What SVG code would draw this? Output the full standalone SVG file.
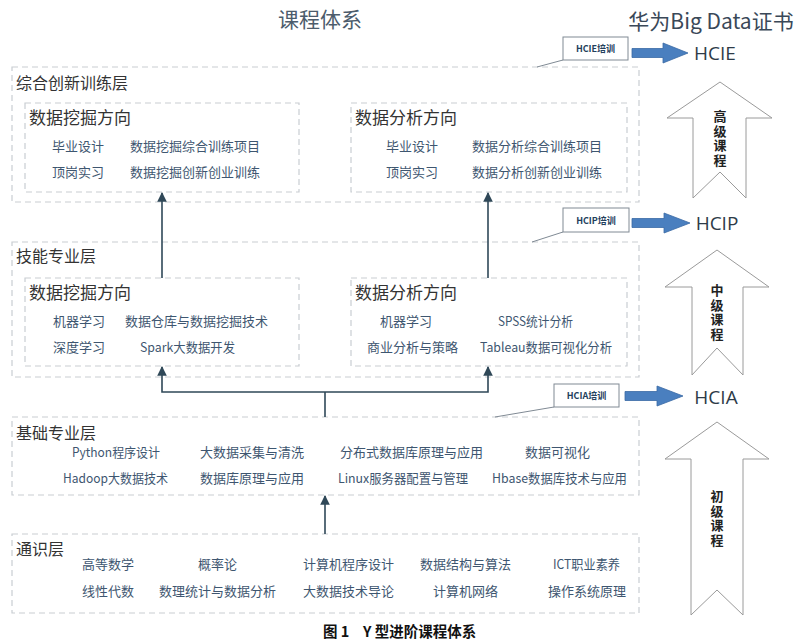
<svg xmlns="http://www.w3.org/2000/svg" width="800" height="643" viewBox="0 0 800 643">
<style>
text{font-family:"Noto Sans CJK SC","Liberation Sans",sans-serif}
.layer{fill:#fff;stroke:#c9cdd2;stroke-width:1.2;stroke-dasharray:6 4}
.lbl{font-size:16px;fill:#333}
.ttl{font-size:17px;fill:#333}
.it{font-size:13px;fill:#3e5670}
.conn{stroke:#2f4858;stroke-width:1.6;fill:none}
.callout{fill:#fff;stroke:#808a94;stroke-width:1}
.ctext{font-size:9px;font-weight:bold;fill:#23405c;text-anchor:middle}
.lead{stroke:#808a94;stroke-width:1;fill:none}
.blue{fill:#4a7fbf;stroke:#3a6aa5;stroke-width:0.8}
.cert{font-family:"Open Sans","Liberation Sans",sans-serif;font-size:19px;fill:#2e3b48}
.big{fill:#fff;stroke:#9a9a9a;stroke-width:1}
.vt{font-size:13px;font-weight:bold;fill:#222;writing-mode:vertical-rl;text-anchor:middle;letter-spacing:1.5px}
.cap{font-size:14.5px;font-weight:bold;fill:#111}
</style>
<defs>
<marker id="ah" viewBox="0 0 10 10" refX="9" refY="5" markerWidth="6" markerHeight="6" orient="auto">
<path d="M0,0 L10,5 L0,10 z" fill="#2f4858"/>
</marker>
</defs>
<rect width="800" height="643" fill="#fff"/>

<text x="320" y="27" font-size="21" fill="#4c5c6c" text-anchor="middle">课程体系</text>
<text x="711" y="29" font-size="21" fill="#3a4858" text-anchor="middle">华为Big Data证书</text>

<g id="layer-innovation">
<rect class="layer" x="12" y="67" width="627" height="135"/>
<text class="lbl" x="16" y="89">综合创新训练层</text>
<g id="innov-mining">
<rect class="layer" x="25" y="103" width="274" height="89"/>
<text class="ttl" x="29" y="124">数据挖掘方向</text>
<text class="it" x="52" y="151">毕业设计</text>
<text class="it" x="130" y="151">数据挖掘综合训练项目</text>
<text class="it" x="52" y="177">顶岗实习</text>
<text class="it" x="130" y="177">数据挖掘创新创业训练</text>
</g>
<g id="innov-analysis">
<rect class="layer" x="351" y="103" width="276" height="89"/>
<text class="ttl" x="355" y="124">数据分析方向</text>
<text class="it" x="386" y="151">毕业设计</text>
<text class="it" x="472" y="151">数据分析综合训练项目</text>
<text class="it" x="386" y="177">顶岗实习</text>
<text class="it" x="472" y="177">数据分析创新创业训练</text>
</g>
</g>

<g id="layer-skill">
<rect class="layer" x="12" y="242" width="627" height="135"/>
<text class="lbl" x="16" y="262">技能专业层</text>
<g id="skill-mining">
<rect class="layer" x="25" y="278" width="274" height="88"/>
<text class="ttl" x="29" y="299">数据挖掘方向</text>
<text class="it" x="53" y="326">机器学习</text>
<text class="it" x="125" y="326">数据仓库与数据挖掘技术</text>
<text class="it" x="53" y="352">深度学习</text>
<text class="it" x="140" y="352" textLength="95" lengthAdjust="spacingAndGlyphs">Spark大数据开发</text>
</g>
<g id="skill-analysis">
<rect class="layer" x="351" y="278" width="276" height="88"/>
<text class="ttl" x="355" y="299">数据分析方向</text>
<text class="it" x="380" y="326">机器学习</text>
<text class="it" x="498" y="326" textLength="75" lengthAdjust="spacingAndGlyphs">SPSS统计分析</text>
<text class="it" x="367" y="352">商业分析与策略</text>
<text class="it" x="480" y="352" textLength="132" lengthAdjust="spacingAndGlyphs">Tableau数据可视化分析</text>
</g>
</g>

<g id="layer-foundation">
<rect class="layer" x="12" y="417" width="627" height="78"/>
<text class="lbl" x="16" y="439">基础专业层</text>
<text class="it" x="72" y="457" textLength="88" lengthAdjust="spacingAndGlyphs">Python程序设计</text>
<text class="it" x="200" y="457">大数据采集与清洗</text>
<text class="it" x="340" y="457">分布式数据库原理与应用</text>
<text class="it" x="525" y="457">数据可视化</text>
<text class="it" x="63" y="483" textLength="105" lengthAdjust="spacingAndGlyphs">Hadoop大数据技术</text>
<text class="it" x="200" y="483">数据库原理与应用</text>
<text class="it" x="338" y="483" textLength="130" lengthAdjust="spacingAndGlyphs">Linux服务器配置与管理</text>
<text class="it" x="492" y="483" textLength="135" lengthAdjust="spacingAndGlyphs">Hbase数据库技术与应用</text>
</g>

<g id="layer-general">
<rect class="layer" x="12" y="534" width="627" height="79"/>
<text class="lbl" x="16" y="555">通识层</text>
<text class="it" x="82" y="569">高等数学</text>
<text class="it" x="198" y="569">概率论</text>
<text class="it" x="303" y="569">计算机程序设计</text>
<text class="it" x="420" y="569">数据结构与算法</text>
<text class="it" x="553" y="569" textLength="67" lengthAdjust="spacingAndGlyphs">ICT职业素养</text>
<text class="it" x="82" y="596">线性代数</text>
<text class="it" x="159" y="596">数理统计与数据分析</text>
<text class="it" x="303" y="596">大数据技术导论</text>
<text class="it" x="433" y="596">计算机网络</text>
<text class="it" x="548" y="596">操作系统原理</text>
</g>

<g id="connectors">
<line class="conn" x1="162" y1="278" x2="162" y2="193" marker-end="url(#ah)"/>
<line class="conn" x1="488" y1="278" x2="488" y2="193" marker-end="url(#ah)"/>
<polyline class="conn" points="325,417 325,392"/>
<polyline class="conn" points="325,392 162,392 162,367" marker-end="url(#ah)"/>
<polyline class="conn" points="325,392 488,392 488,367" marker-end="url(#ah)"/>
<line class="conn" x1="325" y1="534" x2="325" y2="496" marker-end="url(#ah)"/>
</g>

<g id="hcie">
<polyline class="lead" points="563,60 537,67"/>
<rect class="callout" x="563" y="37" width="65" height="23"/>
<text class="ctext" x="595.5" y="52">HCIE培训</text>
<path class="blue" d="M632,48.5 L663,48.5 L663,43 L688,53 L663,63 L663,57.5 L632,57.5 z"/>
<text class="cert" x="715" y="60" text-anchor="middle">HCIE</text>
</g>

<g id="hcip">
<polyline class="lead" points="563,232 532,242"/>
<rect class="callout" x="563" y="208" width="66" height="24"/>
<text class="ctext" x="596" y="223.5">HCIP培训</text>
<path class="blue" d="M632,218.5 L664,218.5 L664,213 L690,223 L664,233 L664,227.5 L632,227.5 z"/>
<text class="cert" x="717" y="230" text-anchor="middle">HCIP</text>
</g>

<g id="hcia">
<polyline class="lead" points="554,407 495,417"/>
<rect class="callout" x="554" y="384" width="65" height="23"/>
<text class="ctext" x="586.5" y="399">HCIA培训</text>
<path class="blue" d="M625,391.5 L657,391.5 L657,386 L683,396 L657,406 L657,400.5 L625,400.5 z"/>
<text class="cert" x="716" y="404" text-anchor="middle">HCIA</text>
</g>

<g id="advanced">
<path class="big" d="M720,82 L772,118 L746,118 L746,198 L720,172 L693,198 L693,118 L667,118 z"/>
<text class="vt" x="720" y="139">高级课程</text>
</g>
<g id="intermediate">
<path class="big" d="M717,250 L769,287 L743,287 L743,375 L717,348 L692,375 L692,287 L665,287 z"/>
<text class="vt" x="717" y="313">中级课程</text>
</g>
<g id="beginner">
<path class="big" d="M717,422 L769,459 L743,459 L743,615 L717,590 L691,615 L691,459 L665,459 z"/>
<text class="vt" x="717" y="519">初级课程</text>
</g>

<text class="cap" y="637"><tspan x="323">图 1</tspan><tspan x="363">Y 型进阶课程体系</tspan></text>
</svg>
